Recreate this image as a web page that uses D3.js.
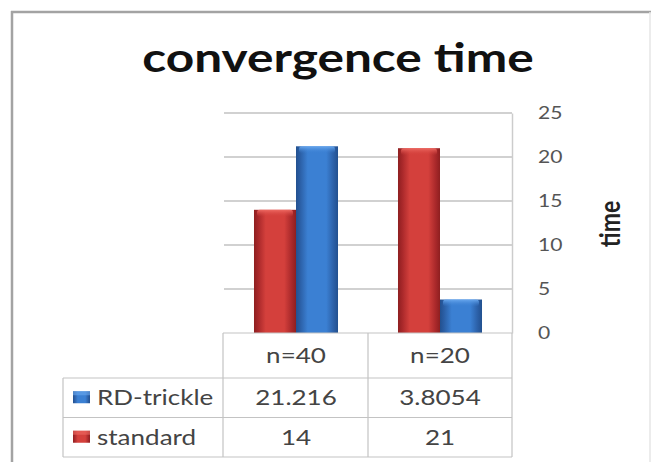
<!DOCTYPE html>
<html>
<head>
<meta charset="utf-8">
<script src="https://cdn.jsdelivr.net/npm/d3@7/dist/d3.min.js"></script>
<style>
  html, body { margin: 0; padding: 0; background: #fff; }
  svg { display: block; font-family: Lato, "Open Sans", sans-serif; }
</style>
</head>
<body>
<svg id="chart" width="655" height="462"></svg>
<script>
// Chart data
const categories = ["n=40", "n=20"];
const seriesNames = ["standard", "RD-trickle"];          // bar order within a group
const tableOrder = ["RD-trickle", "standard"];           // row order in the data table
const standardValues = [14, 21];
const rdTrickleValues = [21.216, 3.8054];
const rdTrickleLabels = ["21.216", "3.8054"];
const standardLabels = ["14", "21"];
const yTicks = [0, 5, 10, 15, 20, 25];

const valuesBySeries = { "standard": standardValues, "RD-trickle": rdTrickleValues };
const labelsBySeries = { "standard": standardLabels, "RD-trickle": rdTrickleLabels };

const svg = d3.select("#chart");
const defs = svg.append("defs");

// Text is drawn slightly wide
const SX = 1.24;
const wide = (x, y) => `translate(${x},${y}) scale(${SX},1)`;

// Layout of the plot and the data table beneath it
const plot = { left: 224, right: 512, top: 113, bottom: 333 };
const table = { left: 63, headerTop: 333, headerBottom: 378, rowH: 39.5 };

const x0 = d3.scaleBand().domain(categories).range([plot.left, plot.right]).paddingInner(0).paddingOuter(0);
const x1 = d3.scaleBand().domain(seriesNames).range([0, x0.bandwidth()]).paddingInner(0).paddingOuter(0.714);
const y = d3.scaleLinear().domain([0, 25]).range([plot.bottom, plot.top]);

// Colours
const palette = {
  "standard": { edge: "#a8282a", mid: "#d4403c", light: "#ee6a63", dark: "#8e1f20" },
  "RD-trickle": { edge: "#2b5fa6", mid: "#3b80d3", light: "#6aa8ee", dark: "#22508f" }
};

// Bevel-like gradients for the bars
seriesNames.forEach((s, i) => {
  const c = palette[s];
  const g = defs.append("linearGradient").attr("id", "grad" + i).attr("x1", "0").attr("x2", "1").attr("y1", "0").attr("y2", "0");
  g.append("stop").attr("offset", "0%").attr("stop-color", c.dark);
  g.append("stop").attr("offset", "10%").attr("stop-color", c.edge);
  g.append("stop").attr("offset", "28%").attr("stop-color", c.mid);
  g.append("stop").attr("offset", "72%").attr("stop-color", c.mid);
  g.append("stop").attr("offset", "90%").attr("stop-color", c.edge);
  g.append("stop").attr("offset", "100%").attr("stop-color", c.dark);
  const t = defs.append("linearGradient").attr("id", "top" + i).attr("x1", "0").attr("x2", "0").attr("y1", "0").attr("y2", "1");
  t.append("stop").attr("offset", "0%").attr("stop-color", c.light);
  t.append("stop").attr("offset", "100%").attr("stop-color", c.mid).attr("stop-opacity", 0);
});

// Outer chart frame
const frame = svg.append("g").attr("fill", "none");
frame.append("line").attr("x1", 11).attr("x2", 651).attr("y1", 12).attr("y2", 12).attr("stroke", "#a3a3a3").attr("stroke-width", 2.5);
frame.append("line").attr("x1", 12).attr("x2", 12).attr("y1", 11).attr("y2", 462).attr("stroke", "#a3a3a3").attr("stroke-width", 2.5);
frame.append("line").attr("x1", 650).attr("x2", 650).attr("y1", 12).attr("y2", 462).attr("stroke", "#e6e6e6").attr("stroke-width", 1.5);

// Title
svg.append("text")
  .attr("transform", wide(338, 72))
  .attr("text-anchor", "middle")
  .attr("font-size", 40).attr("font-weight", "bold").attr("fill", "#111")
  .text("convergence time");

// Gridlines
svg.append("g").selectAll("line").data(yTicks.filter(d => d > 0)).join("line")
  .attr("x1", plot.left).attr("x2", plot.right)
  .attr("y1", d => y(d)).attr("y2", d => y(d))
  .attr("stroke", "#c2c2c2").attr("stroke-width", 1.5);

// Right value axis
const yAxis = d3.axisRight(y).tickValues(yTicks).tickSize(0).tickPadding(0);
const yAxisG = svg.append("g").attr("transform", `translate(${plot.right},0)`).call(yAxis);
yAxisG.select(".domain").attr("stroke", "#cccccc").attr("stroke-width", 1.5);
yAxisG.selectAll("text")
  .attr("x", 0).attr("transform", `translate(26,0) scale(${SX},1)`)
  .attr("font-size", 17).attr("fill", "#555").attr("font-family", "Lato, sans-serif");

// Axis title
svg.append("text")
  .attr("transform", `${wide(620, 224)} rotate(-90)`)
  .attr("text-anchor", "middle")
  .attr("font-size", 23).attr("font-weight", "bold").attr("fill", "#222")
  .text("time");

// Bars
const groups = svg.append("g").selectAll("g").data(categories).join("g")
  .attr("transform", d => `translate(${x0(d)},0)`);
groups.selectAll("g.bar").data((c, ci) => seriesNames.map((s, si) => ({ s, si, v: valuesBySeries[s][ci] })))
  .join("g").attr("class", "bar")
  .each(function(d) {
    const g = d3.select(this);
    const bx = x1(d.s), bw = x1.bandwidth(), by = y(d.v), bh = y(0) - y(d.v);
    g.append("rect").attr("x", bx).attr("y", by).attr("width", bw).attr("height", bh)
      .attr("fill", `url(#grad${d.si})`);
    g.append("rect").attr("x", bx + 3).attr("y", by).attr("width", bw - 6).attr("height", Math.min(7, bh))
      .attr("rx", 3).attr("fill", `url(#top${d.si})`);
  });

// Data table lines
const tLines = svg.append("g").attr("stroke", "#c3c3c3").attr("stroke-width", 1.2);
const rowTops = [table.headerBottom, table.headerBottom + table.rowH, table.headerBottom + 2 * table.rowH];
tLines.append("line").attr("x1", plot.left - 1).attr("x2", plot.right).attr("y1", plot.bottom).attr("y2", plot.bottom);
rowTops.forEach(yy => tLines.append("line").attr("x1", table.left).attr("x2", plot.right).attr("y1", yy).attr("y2", yy));
[plot.left - 1, x0(categories[1]), plot.right].forEach(xx =>
  tLines.append("line").attr("x1", xx).attr("x2", xx).attr("y1", plot.bottom).attr("y2", rowTops[2]));
tLines.append("line").attr("x1", table.left).attr("x2", table.left).attr("y1", rowTops[0]).attr("y2", rowTops[2]);

// Header row: category names
svg.append("g").selectAll("text").data(categories).join("text")
  .attr("transform", d => wide(x0(d) + x0.bandwidth() / 2, (table.headerTop + table.headerBottom) / 2))
  .attr("dy", "0.35em").attr("text-anchor", "middle")
  .attr("font-size", 21).attr("fill", "#444")
  .text(d => d);

// Series rows
tableOrder.forEach((s, ri) => {
  const yc = table.headerBottom + table.rowH * (ri + 0.5);
  const si = seriesNames.indexOf(s);
  svg.append("rect").attr("x", 73).attr("y", yc - 6.5).attr("width", 17).attr("height", 12)
    .attr("fill", `url(#grad${si})`);
  svg.append("rect").attr("x", 73).attr("y", yc - 6.5).attr("width", 17).attr("height", 4)
    .attr("fill", palette[s].light).attr("opacity", 0.6);
  svg.append("text").attr("transform", wide(97, yc)).attr("dy", "0.35em")
    .attr("font-size", 21).attr("fill", "#444").text(s);
  svg.append("g").selectAll("text").data(categories).join("text")
    .attr("transform", d => wide(x0(d) + x0.bandwidth() / 2, yc))
    .attr("dy", "0.35em").attr("text-anchor", "middle")
    .attr("font-size", 21).attr("fill", "#444")
    .text((d, ci) => labelsBySeries[s][ci]);
});
</script>
</body>
</html>
